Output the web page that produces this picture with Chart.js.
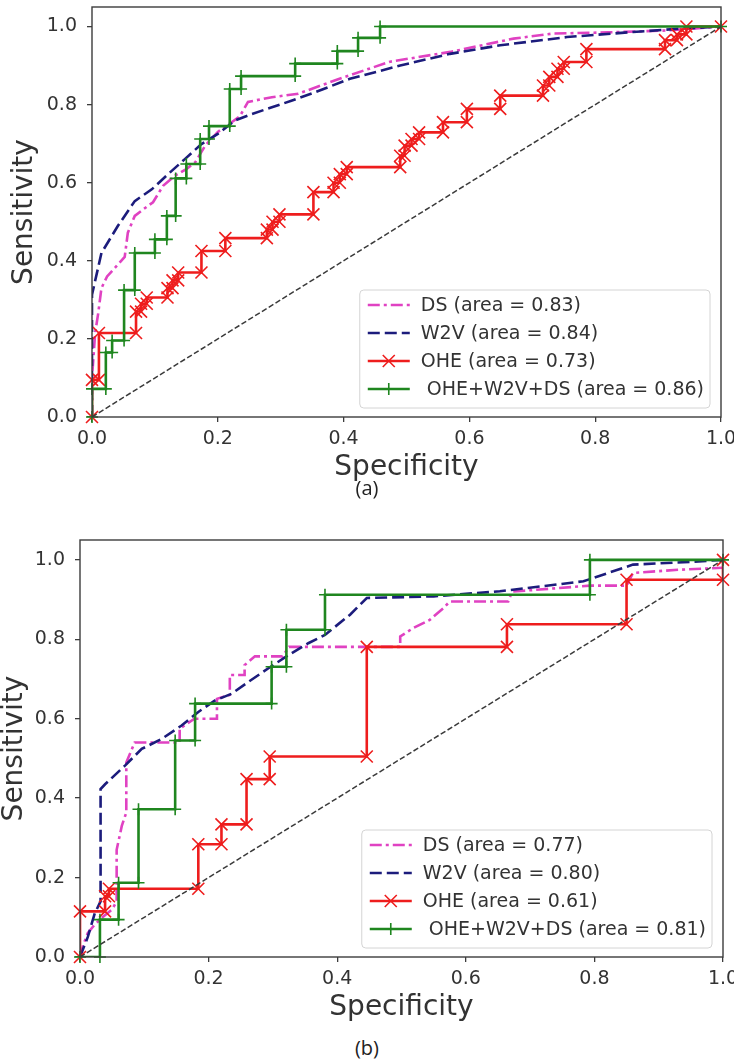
<!DOCTYPE html>
<html>
<head>
<meta charset="utf-8">
<title>ROC curves</title>
<script src="https://cdn.jsdelivr.net/npm/chart.js@4.4.1/dist/chart.umd.min.js"></script>
<style>
  html, body { margin: 0; padding: 0; background: #fff; }
  body { position: relative; width: 734px; height: 1062px; overflow: hidden; }
  .panel { position: absolute; left: 0; }
  .caption {
    position: absolute; left: 0; width: 734px; text-align: center;
    font: 20px 'Open Sans', sans-serif; color: #222; line-height: 24px;
  }
</style>
</head>
<body>
<div class="panel" style="top:0"><canvas id="rocA" width="734" height="482"></canvas></div>
<div class="caption" style="top:476px">(a)</div>
<div class="panel" style="top:533px"><canvas id="rocB" width="734" height="489"></canvas></div>
<div class="caption" style="top:1036px">(b)</div>

<script>
// axis ticks
const axisTicks = [0, 0.2, 0.4, 0.6, 0.8, 1.0]

// legend names and AUC per panel
const modelNames = ['DS', 'W2V', 'OHE', ' OHE+W2V+DS']
const aucA = [0.83, 0.84, 0.73, 0.86]
const aucB = [0.77, 0.80, 0.61, 0.81]

// ---- panel (a) ----
const dsFprA = [0, 0, 0.005, 0.010, 0.015, 0.024, 0.041, 0.052, 0.057, 0.068, 0.080, 0.097, 0.113, 0.132, 0.150, 0.164, 0.180, 0.200, 0.222, 0.235, 0.248, 0.286, 0.328, 0.400, 0.474, 0.570, 0.670, 0.733, 0.820, 0.914, 1.0]
const dsTprA = [0, 0.10, 0.215, 0.267, 0.33, 0.36, 0.39, 0.41, 0.472, 0.515, 0.53, 0.55, 0.592, 0.618, 0.635, 0.652, 0.695, 0.73, 0.755, 0.77, 0.807, 0.819, 0.828, 0.87, 0.91, 0.935, 0.969, 0.982, 0.985, 0.99, 1.0]

const w2vFprA = [0, 0, 0.015, 0.041, 0.068, 0.095, 0.121, 0.148, 0.174, 0.200, 0.227, 0.254, 0.286, 0.317, 0.355, 0.410, 0.490, 0.569, 0.649, 0.755, 0.860, 0.940, 1.0]
const w2vTprA = [0, 0.313, 0.42, 0.489, 0.553, 0.583, 0.622, 0.661, 0.699, 0.725, 0.759, 0.776, 0.793, 0.81, 0.832, 0.866, 0.90, 0.93, 0.952, 0.973, 0.986, 0.995, 1.0]

const oheFprA = [0, 0, 0.011, 0.011, 0.07, 0.07, 0.078, 0.078, 0.087, 0.087, 0.12, 0.12, 0.128, 0.128, 0.137, 0.137, 0.174, 0.174, 0.212, 0.212, 0.278, 0.278, 0.287, 0.287, 0.298, 0.298, 0.352, 0.352, 0.384, 0.384, 0.394, 0.394, 0.405, 0.405, 0.49, 0.49, 0.497, 0.497, 0.508, 0.508, 0.52, 0.52, 0.558, 0.558, 0.596, 0.596, 0.649, 0.649, 0.717, 0.717, 0.727, 0.727, 0.74, 0.74, 0.75, 0.75, 0.786, 0.786, 0.911, 0.911, 0.93, 0.93, 0.945, 0.945, 1.0]
const oheTprA = [0, 0.095, 0.095, 0.215, 0.215, 0.27, 0.27, 0.29, 0.29, 0.306, 0.306, 0.33, 0.33, 0.35, 0.35, 0.37, 0.37, 0.425, 0.425, 0.458, 0.458, 0.48, 0.48, 0.50, 0.50, 0.519, 0.519, 0.576, 0.576, 0.60, 0.60, 0.622, 0.622, 0.64, 0.64, 0.669, 0.669, 0.695, 0.695, 0.712, 0.712, 0.729, 0.729, 0.755, 0.755, 0.789, 0.789, 0.823, 0.823, 0.849, 0.849, 0.871, 0.871, 0.892, 0.892, 0.909, 0.909, 0.942, 0.942, 0.965, 0.965, 0.98, 0.98, 1.0, 1.0]

const allFprA = [0, 0, 0.022, 0.022, 0.032, 0.032, 0.051, 0.051, 0.068, 0.068, 0.10, 0.10, 0.119, 0.119, 0.133, 0.133, 0.15, 0.15, 0.172, 0.172, 0.186, 0.186, 0.219, 0.219, 0.237, 0.237, 0.323, 0.323, 0.39, 0.39, 0.423, 0.423, 0.458, 0.458, 1.0]
const allTprA = [0, 0.072, 0.072, 0.165, 0.165, 0.196, 0.196, 0.325, 0.325, 0.42, 0.42, 0.455, 0.455, 0.515, 0.515, 0.611, 0.611, 0.648, 0.648, 0.712, 0.712, 0.745, 0.745, 0.84, 0.84, 0.873, 0.873, 0.905, 0.905, 0.937, 0.937, 0.971, 0.971, 1.0, 1.0]

// ---- panel (b) ----
const dsFprB = [0, 0.005, 0.012, 0.022, 0.035, 0.05, 0.057, 0.057, 0.065, 0.072, 0.072, 0.085, 0.155, 0.155, 0.178, 0.213, 0.213, 0.233, 0.233, 0.256, 0.256, 0.272, 0.315, 0.325, 0.467, 0.498, 0.498, 0.518, 0.544, 0.565, 0.575, 0.666, 0.672, 0.793, 0.85, 0.86, 0.93, 1.0, 1.0]
const dsTprB = [0, 0.03, 0.06, 0.08, 0.10, 0.12, 0.14, 0.27, 0.33, 0.364, 0.49, 0.54, 0.54, 0.575, 0.60, 0.60, 0.65, 0.66, 0.71, 0.71, 0.735, 0.757, 0.757, 0.781, 0.781, 0.781, 0.807, 0.828, 0.849, 0.878, 0.895, 0.895, 0.92, 0.935, 0.935, 0.967, 0.975, 0.98, 1.0]

const w2vFprB = [0, 0.012, 0.023, 0.032, 0.032, 0.039, 0.07, 0.096, 0.127, 0.158, 0.184, 0.21, 0.236, 0.262, 0.293, 0.324, 0.355, 0.381, 0.42, 0.446, 0.55, 0.653, 0.783, 0.86, 0.95, 1.0]
const w2vTprB = [0, 0.05, 0.11, 0.14, 0.423, 0.435, 0.482, 0.524, 0.549, 0.583, 0.617, 0.646, 0.663, 0.693, 0.727, 0.76, 0.79, 0.811, 0.862, 0.904, 0.908, 0.921, 0.946, 0.988, 0.995, 1.0]

const oheFprB = [0, 0, 0.039, 0.039, 0.045, 0.045, 0.184, 0.184, 0.22, 0.22, 0.259, 0.259, 0.295, 0.295, 0.446, 0.446, 0.664, 0.664, 0.85, 0.85, 1.0, 1.0]
const oheTprB = [0, 0.115, 0.115, 0.153, 0.153, 0.172, 0.172, 0.284, 0.284, 0.334, 0.334, 0.448, 0.448, 0.505, 0.505, 0.781, 0.781, 0.838, 0.838, 0.95, 0.95, 1.0]

const allFprB = [0, 0.031, 0.031, 0.06, 0.06, 0.091, 0.091, 0.148, 0.148, 0.179, 0.179, 0.298, 0.298, 0.321, 0.321, 0.381, 0.381, 0.793, 0.793, 1.0]
const allTprB = [0, 0, 0.094, 0.094, 0.187, 0.187, 0.372, 0.372, 0.545, 0.545, 0.638, 0.638, 0.731, 0.731, 0.824, 0.824, 0.912, 0.912, 1.0, 1.0]

// chance line
const chanceFpr = [0, 1]
const chanceTpr = [0, 1]

// line styles, same order as modelNames
const lineStyles = [
  { color: '#e042c2', dash: [12, 4, 3, 4] },
  { color: '#1c1c7c', dash: [12, 5] },
  { color: '#ee1d1d', dash: [], mark: 'x', size: 6 },
  { color: '#1f861f', dash: [], mark: '+', size: 6 },
]

const FONT = "'DejaVu Sans', sans-serif"
Chart.defaults.font.family = FONT
Chart.defaults.color = '#333'

function toPoints(xs, ys) {
  return xs.map((x, i) => ({ x: x, y: ys[i] }))
}

// x / + marker, matplotlib style
function drawMark(ctx, kind, size, x, y) {
  ctx.beginPath()
  if (kind === 'x') {
    ctx.moveTo(x - size, y - size); ctx.lineTo(x + size, y + size)
    ctx.moveTo(x - size, y + size); ctx.lineTo(x + size, y - size)
  } else {
    ctx.moveTo(x - size, y); ctx.lineTo(x + size, y)
    ctx.moveTo(x, y - size); ctx.lineTo(x, y + size)
  }
  ctx.stroke()
}

// markers on every ROC point
const markerPlugin = {
  id: 'rocMarkers',
  afterDatasetDraw(chart, args) {
    const ds = chart.data.datasets[args.index]
    if (!ds.mark) return
    const { ctx, chartArea } = chart
    ctx.save()
    ctx.beginPath()
    ctx.rect(chartArea.left - 8, chartArea.top - 8, chartArea.width + 16, chartArea.height + 16)
    ctx.clip()
    ctx.strokeStyle = ds.borderColor
    ctx.lineWidth = 1.6
    args.meta.data.forEach(p => drawMark(ctx, ds.mark, ds.markSize, p.x, p.y))
    ctx.restore()
  },
}

// axes frame on all four sides
const framePlugin = {
  id: 'frame',
  afterDatasetsDraw(chart) {
    const { ctx, chartArea: a } = chart
    ctx.save()
    ctx.strokeStyle = '#3c3c3c'
    ctx.lineWidth = 1.4
    ctx.strokeRect(a.left, a.top, a.width, a.height)
    ctx.restore()
  },
}

// legend box in the lower right corner
const legendPlugin = {
  id: 'boxLegend',
  afterDatasetsDraw(chart) {
    const { ctx, chartArea } = chart
    const items = chart.data.datasets.filter(d => d.label)
    ctx.save()
    ctx.font = '19px ' + FONT
    const textW = Math.max(...items.map(d => ctx.measureText(d.label).width))
    const w = 8 + 42 + 11 + textW + 6
    const h = 118
    const x0 = chartArea.right - 11 - w
    const y0 = chartArea.bottom - 9 - h
    ctx.beginPath()
    ctx.roundRect(x0, y0, w, h, 4)
    ctx.fillStyle = 'rgba(255,255,255,0.85)'
    ctx.fill()
    ctx.strokeStyle = '#d4d4d4'
    ctx.lineWidth = 1
    ctx.stroke()
    items.forEach((d, i) => {
      const cy = y0 + 15 + 28 * i
      ctx.strokeStyle = d.borderColor
      ctx.lineWidth = d.borderWidth
      ctx.setLineDash(d.borderDash)
      ctx.beginPath()
      ctx.moveTo(x0 + 8, cy)
      ctx.lineTo(x0 + 50, cy)
      ctx.stroke()
      ctx.setLineDash([])
      if (d.mark) {
        ctx.lineWidth = 1.6
        drawMark(ctx, d.mark, d.markSize, x0 + 29, cy)
      }
      ctx.fillStyle = '#333'
      ctx.textBaseline = 'middle'
      ctx.fillText(d.label, x0 + 61, cy + 1)
    })
    ctx.restore()
  },
}

function buildRoc(canvasId, curves, aucs, box) {
  const datasets = curves.map((c, i) => ({
    label: `${modelNames[i]} (area = ${aucs[i].toFixed(2)})`,
    data: toPoints(c[0], c[1]),
    borderColor: lineStyles[i].color,
    borderDash: lineStyles[i].dash,
    borderWidth: 2.6,
    pointRadius: 0,
    pointHoverRadius: 0,
    tension: 0,
    mark: lineStyles[i].mark,
    markSize: lineStyles[i].size,
    order: curves.length - i,
  }))
  datasets.push({
    label: '',
    data: toPoints(chanceFpr, chanceTpr),
    borderColor: '#3a3a3a',
    borderDash: [5.5, 2.5],
    borderWidth: 1.5,
    pointRadius: 0,
    order: 0,
  })

  const tickOpts = {
    font: { size: 19 },
    color: '#333',
    autoSkip: false,
    maxRotation: 0,
    callback: (v) => Number(v).toFixed(1),
  }

  new Chart(document.getElementById(canvasId), {
    type: 'line',
    data: { datasets },
    options: {
      responsive: false,
      animation: false,
      events: [],
      layout: { padding: { left: 0, right: box.padRight, top: 7, bottom: 0 } },
      plugins: { legend: { display: false }, tooltip: { enabled: false } },
      scales: {
        x: {
          type: 'linear',
          min: 0,
          max: 1,
          afterBuildTicks: (s) => { s.ticks = axisTicks.map(v => ({ value: v })) },
          afterFit: (s) => { s.height = 65; s.paddingLeft = 0; s.paddingRight = 0 },
          ticks: { ...tickOpts, padding: 6 },
          grid: { drawOnChartArea: false, tickLength: 5, color: '#3c3c3c', lineWidth: 1.3 },
          border: { display: false },
          title: { display: true, text: 'Specificity', font: { size: 28, lineHeight: 1 }, padding: 0, color: '#333' },
        },
        y: {
          type: 'linear',
          min: 0,
          max: 1.05,
          afterBuildTicks: (s) => { s.ticks = axisTicks.map(v => ({ value: v })) },
          afterFit: (s) => { s.width = box.yWidth; s.paddingTop = 0; s.paddingBottom = 0 },
          ticks: { ...tickOpts, padding: 10 },
          grid: { drawOnChartArea: false, tickLength: 5, color: '#3c3c3c', lineWidth: 1.3 },
          border: { display: false },
          title: { display: true, text: 'Sensitivity', font: { size: 28, lineHeight: 1 }, padding: { top: box.titlePad, bottom: 0 }, color: '#333' },
        },
      },
    },
    plugins: [markerPlugin, framePlugin, legendPlugin],
  })
}

buildRoc('rocA', [[dsFprA, dsTprA], [w2vFprA, w2vTprA], [oheFprA, oheTprA], [allFprA, allTprA]], aucA,
  { padRight: 13, yWidth: 92, titlePad: 11 })
buildRoc('rocB', [[dsFprB, dsTprB], [w2vFprB, w2vTprB], [oheFprB, oheTprB], [allFprB, allTprB]], aucB,
  { padRight: 11, yWidth: 80, titlePad: 1 })
</script>
</body>
</html>
